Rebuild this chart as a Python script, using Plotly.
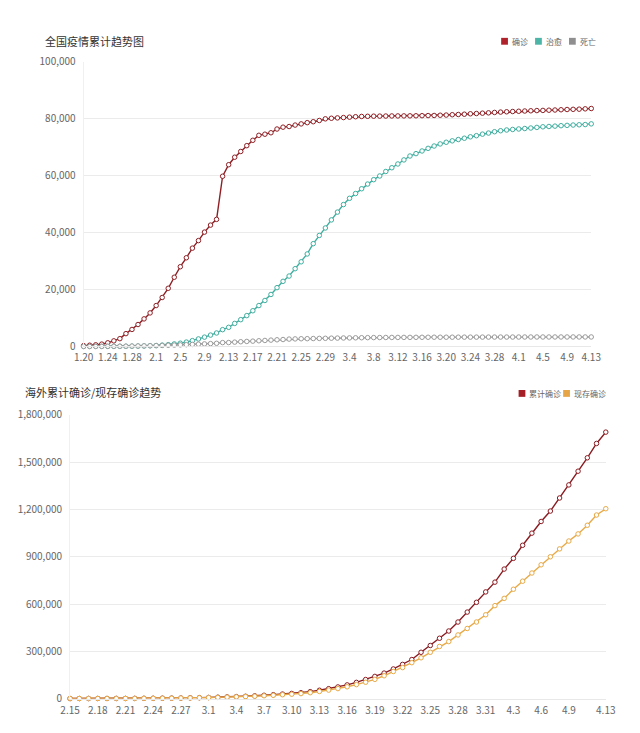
import plotly.graph_objects as go
from datetime import date, timedelta

W, H = 640, 733


def day_labels(start, n):
    return [f"{d.month}.{d.day}" for d in (start + timedelta(i) for i in range(n))]


# ---------------- data: China cumulative (1.20 - 4.13) ----------------
cn_dates = day_labels(date(2020, 1, 20), 85)
cn_confirmed = [
    291, 440, 571, 830, 1287, 1975, 2744, 4515, 5974, 7711, 9692, 11791,
    14380, 17205, 20438, 24324, 28018, 31161, 34546, 37198, 40171, 42638,
    44653, 59804, 63851, 66492, 68500, 70548, 72436, 74185, 74576, 75077,
    76392, 77042, 77262, 77780, 78191, 78630, 78959, 79389, 79968,
    80174, 80302, 80422, 80565, 80710, 80813, 80859, 80904, 80924, 80955,
    80980, 80991, 81003, 81021, 81048, 81077, 81116, 81151, 81235, 81300,
    81416, 81498, 81601, 81747, 81846, 81960, 82078, 82213, 82341, 82447, 82545,
    82631, 82724, 82802, 82875, 82930, 83005, 83071, 83157, 83249, 83305,
    83369, 83482, 83597,
]
cn_cured = [
    25, 28, 28, 34, 38, 49, 51, 60, 103, 124, 171, 243,
    328, 475, 632, 892, 1153, 1540, 2050, 2649, 3281, 3996, 4740, 5911,
    6723, 8096, 9419, 10844, 12552, 14376, 16155, 18264, 20659, 22888,
    24734, 27323, 29745, 32495, 36117, 39002, 41625,
    44462, 47204, 49856, 52045, 53726, 55404, 57065, 58600, 59897, 61475,
    62793, 64111, 65541, 66911, 67749, 68679, 69601, 70420, 71150, 71740,
    72244, 72703, 73159, 73650, 74051, 74588, 74971, 75448, 75790, 76052, 76238,
    76408, 76571, 76751, 76964, 77167, 77279, 77410, 77567, 77679, 77791,
    77877, 77956, 78200,
]
cn_dead = [
    6, 9, 17, 25, 41, 56, 80, 106, 132, 170, 213, 259,
    304, 361, 425, 490, 563, 636, 722, 811, 908, 1016, 1113, 1367, 1380,
    1523, 1665, 1770, 1868, 2004, 2118, 2236, 2345, 2442, 2592, 2663, 2715,
    2744, 2788, 2835, 2870,
    2912, 2943, 2981, 3012, 3042, 3070, 3097, 3119, 3136, 3158, 3169, 3176,
    3189, 3199, 3213, 3226, 3237, 3245, 3249, 3253, 3261, 3270, 3277, 3281,
    3287, 3292, 3295, 3300, 3304, 3305, 3312,
    3318, 3322, 3326, 3329, 3331, 3331, 3333, 3335, 3337, 3339, 3339, 3341, 3341,
]
cn_names = ["确诊", "治愈", "死亡"]
cn_tick_labels = cn_dates[::4]
cn_y_ticks = [0, 20000, 40000, 60000, 80000, 100000]

# ---------------- data: overseas (2.15 - 4.13) ----------------
os_dates = day_labels(date(2020, 2, 15), 59)
os_total = [
    500, 600, 700, 800, 900, 1000, 1200, 1400, 1800, 2100, 2500, 2900, 3700,
    4700, 6000, 7200, 8800, 10600, 12700, 14800, 17500, 21100, 24700, 28700,
    32800, 37400, 44100, 53000, 63000, 74000, 87000, 103000, 121000, 141000,
    162000, 188000, 217000, 248000, 294000, 337000, 383000, 429000, 486000,
    549000, 611000, 677000, 739000, 822000, 890000, 973000, 1050000, 1124000,
    1190000, 1273000, 1356000, 1443000, 1528000, 1619000, 1691000,
]
os_active = [
    480, 570, 660, 750, 840, 920, 1100, 1280, 1650, 1900, 2250, 2600, 3300,
    4200, 5400, 6400, 7800, 9300, 11100, 12800, 15100, 18200, 21200, 24600,
    28000, 31800, 37600, 45500, 54000, 63500, 75000, 89000, 104000, 122000,
    145000, 172000, 197000, 228000, 259000, 294000, 331000, 362000, 404000,
    445000, 486000, 532000, 590000, 636000, 694000, 745000, 797000, 849000,
    900000, 950000, 1000000, 1045000, 1100000, 1165000, 1205000,
]
os_names = ["累计确诊", "现存确诊"]
os_tick_labels = os_dates[:55:3] + [os_dates[-1]]
os_y_ticks = [0, 300000, 600000, 900000, 1200000, 1500000, 1800000]

# ---------------- styling ----------------
FONT = "Noto Sans CJK SC, Microsoft YaHei, sans-serif"
cn_line_colors = ["#8e1f24", "#3fae9f", "#9a9a9a"]
cn_legend_colors = ["#b0222b", "#4db5a7", "#8f8f8f"]
os_line_colors = ["#8a1c22", "#e8aa48"]
os_legend_colors = ["#a51f27", "#e6a547"]


def px_x(p):
    return p / W


def px_y(p):
    return 1 - p / H


fig = go.Figure()

for name, vals, col in zip(cn_names, [cn_confirmed, cn_cured, cn_dead], cn_line_colors):
    fig.add_trace(go.Scatter(
        x=cn_dates, y=vals, name=name, mode="lines+markers",
        line=dict(color=col, width=1.4),
        marker=dict(symbol="circle", size=4.5, color="white", line=dict(color=col, width=1)),
        xaxis="x", yaxis="y", cliponaxis=False, showlegend=False,
    ))

for name, vals, col in zip(os_names, [os_total, os_active], os_line_colors):
    fig.add_trace(go.Scatter(
        x=os_dates, y=vals, name=name, mode="lines+markers",
        line=dict(color=col, width=1.4),
        marker=dict(symbol="circle", size=4.5, color="white", line=dict(color=col, width=1)),
        xaxis="x2", yaxis="y2", cliponaxis=False, showlegend=False,
    ))

tickfont = dict(family=FONT, size=10, color="#666666")

fig.update_layout(
    width=W, height=H,
    margin=dict(l=0, r=0, t=0, b=0),
    paper_bgcolor="white", plot_bgcolor="white",
    font=dict(family=FONT),
    showlegend=False,
    xaxis=dict(
        domain=[px_x(76), px_x(600)], anchor="y", type="category",
        categoryorder="array", categoryarray=cn_dates,
        range=[0, len(cn_dates) - 1],
        tickmode="array", tickvals=cn_tick_labels, ticktext=cn_tick_labels,
        showgrid=False, zeroline=False, showline=True, linecolor="#e8e8e8",
        ticks="", tickfont=tickfont, ticklabelstandoff=2,
    ),
    yaxis=dict(
        domain=[px_y(345), px_y(54)], anchor="x",
        range=[0, 100000], tickmode="array", tickvals=cn_y_ticks, tickformat=",",
        showgrid=True, gridcolor="#ebebeb", gridwidth=1, zeroline=False,
        showline=True, linecolor="#f0f0f0", ticks="", tickfont=tickfont,
        ticklabelstandoff=5,
    ),
    xaxis2=dict(
        domain=[px_x(62), px_x(615)], anchor="y2", type="category",
        categoryorder="array", categoryarray=os_dates,
        range=[0, len(os_dates) - 1],
        tickmode="array", tickvals=os_tick_labels, ticktext=os_tick_labels,
        showgrid=False, zeroline=False, showline=True, linecolor="#e8e8e8",
        ticks="", tickfont=tickfont, ticklabelstandoff=2,
    ),
    yaxis2=dict(
        domain=[px_y(705), px_y(415)], anchor="x2",
        range=[0, 1800000], tickmode="array", tickvals=os_y_ticks, tickformat=",",
        showgrid=True, gridcolor="#ebebeb", gridwidth=1, zeroline=False,
        showline=True, linecolor="#f0f0f0", ticks="", tickfont=tickfont,
        ticklabelstandoff=5,
    ),
)

# titles
fig.add_annotation(text="全国疫情累计趋势图", x=px_x(34), y=px_y(33), xref="paper", yref="paper",
                   xanchor="left", yanchor="middle", showarrow=False,
                   font=dict(family=FONT, size=11, color="#333333"))
fig.add_annotation(text="海外累计确诊/现存确诊趋势", x=px_x(13), y=px_y(392), xref="paper", yref="paper",
                   xanchor="left", yanchor="middle", showarrow=False,
                   font=dict(family=FONT, size=11, color="#333333"))


def legend(names, colors, sq_x, cy):
    for name, col, sx in zip(names, colors, sq_x):
        fig.add_shape(type="rect", xref="paper", yref="paper",
                      x0=px_x(sx), x1=px_x(sx + 7), y0=px_y(cy + 3.5), y1=px_y(cy - 3.5),
                      fillcolor=col, line=dict(width=0))
        fig.add_annotation(text=name, x=px_x(sx + 9), y=px_y(cy), xref="paper", yref="paper",
                           xanchor="left", yanchor="middle", showarrow=False,
                           font=dict(family=FONT, size=8, color="#666666"))


legend(cn_names, cn_legend_colors, [507, 542, 577], 33)
legend(os_names, os_legend_colors, [525, 571], 393)

fig.write_html("out.html")
